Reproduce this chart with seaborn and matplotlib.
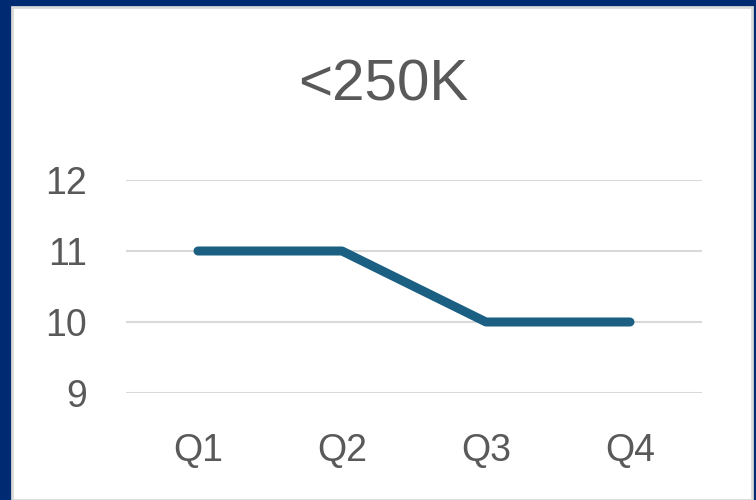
import matplotlib
matplotlib.use("Agg")
import matplotlib.pyplot as plt
import seaborn as sns
import pandas as pd
from matplotlib.patches import Rectangle

quarters = ["Q1", "Q2", "Q3", "Q4"]
values = [11, 11, 10, 10]
yticks = [9, 10, 11, 12]
title = "<250K"

sns.set_theme(style="white")
plt.rcParams["font.family"] = ["Liberation Sans", "DejaVu Sans"]

fig = plt.figure(figsize=(7.56, 5.0), dpi=100)
fig.patch.set_facecolor("#002B73")
panel = Rectangle((12 / 756, 0), 740 / 756, 493 / 500, transform=fig.transFigure,
                  facecolor="white", edgecolor="#d9d9d9", linewidth=2, zorder=-10)
fig.patches.append(panel)

ax = fig.add_axes([126 / 756, 1 - 393 / 500, 576 / 756, 213 / 500])
ax.set_facecolor("none")
df = pd.DataFrame({"quarter": quarters, "value": values})
df["x"] = range(len(quarters))
sns.lineplot(data=df, x="x", y="value", ax=ax, color="#1B5F83", linewidth=6.5,
             solid_capstyle="round", solid_joinstyle="round", zorder=3)
ax.set_xlim(-0.5, len(quarters) - 0.5)
ax.set_ylim(min(yticks), max(yticks))
ax.set_xticks(range(len(quarters)))
ax.set_xticklabels(quarters)
ax.set_yticks(yticks)
ax.tick_params(axis="both", length=0, labelsize=27, labelcolor="#595959")
ax.tick_params(axis="x", pad=29)
ax.tick_params(axis="y", pad=28)
ax.yaxis.grid(True, color="#d9d9d9", linewidth=1.5)
ax.xaxis.grid(False)
for s in ax.spines.values():
    s.set_visible(False)
ax.set_xlabel("")
ax.set_ylabel("")
fig.text(383 / 756, 1 - 86 / 500, title, ha="center", va="center",
         fontsize=42, color="#595959")

fig.savefig("out.png", dpi=100, facecolor=fig.get_facecolor())
